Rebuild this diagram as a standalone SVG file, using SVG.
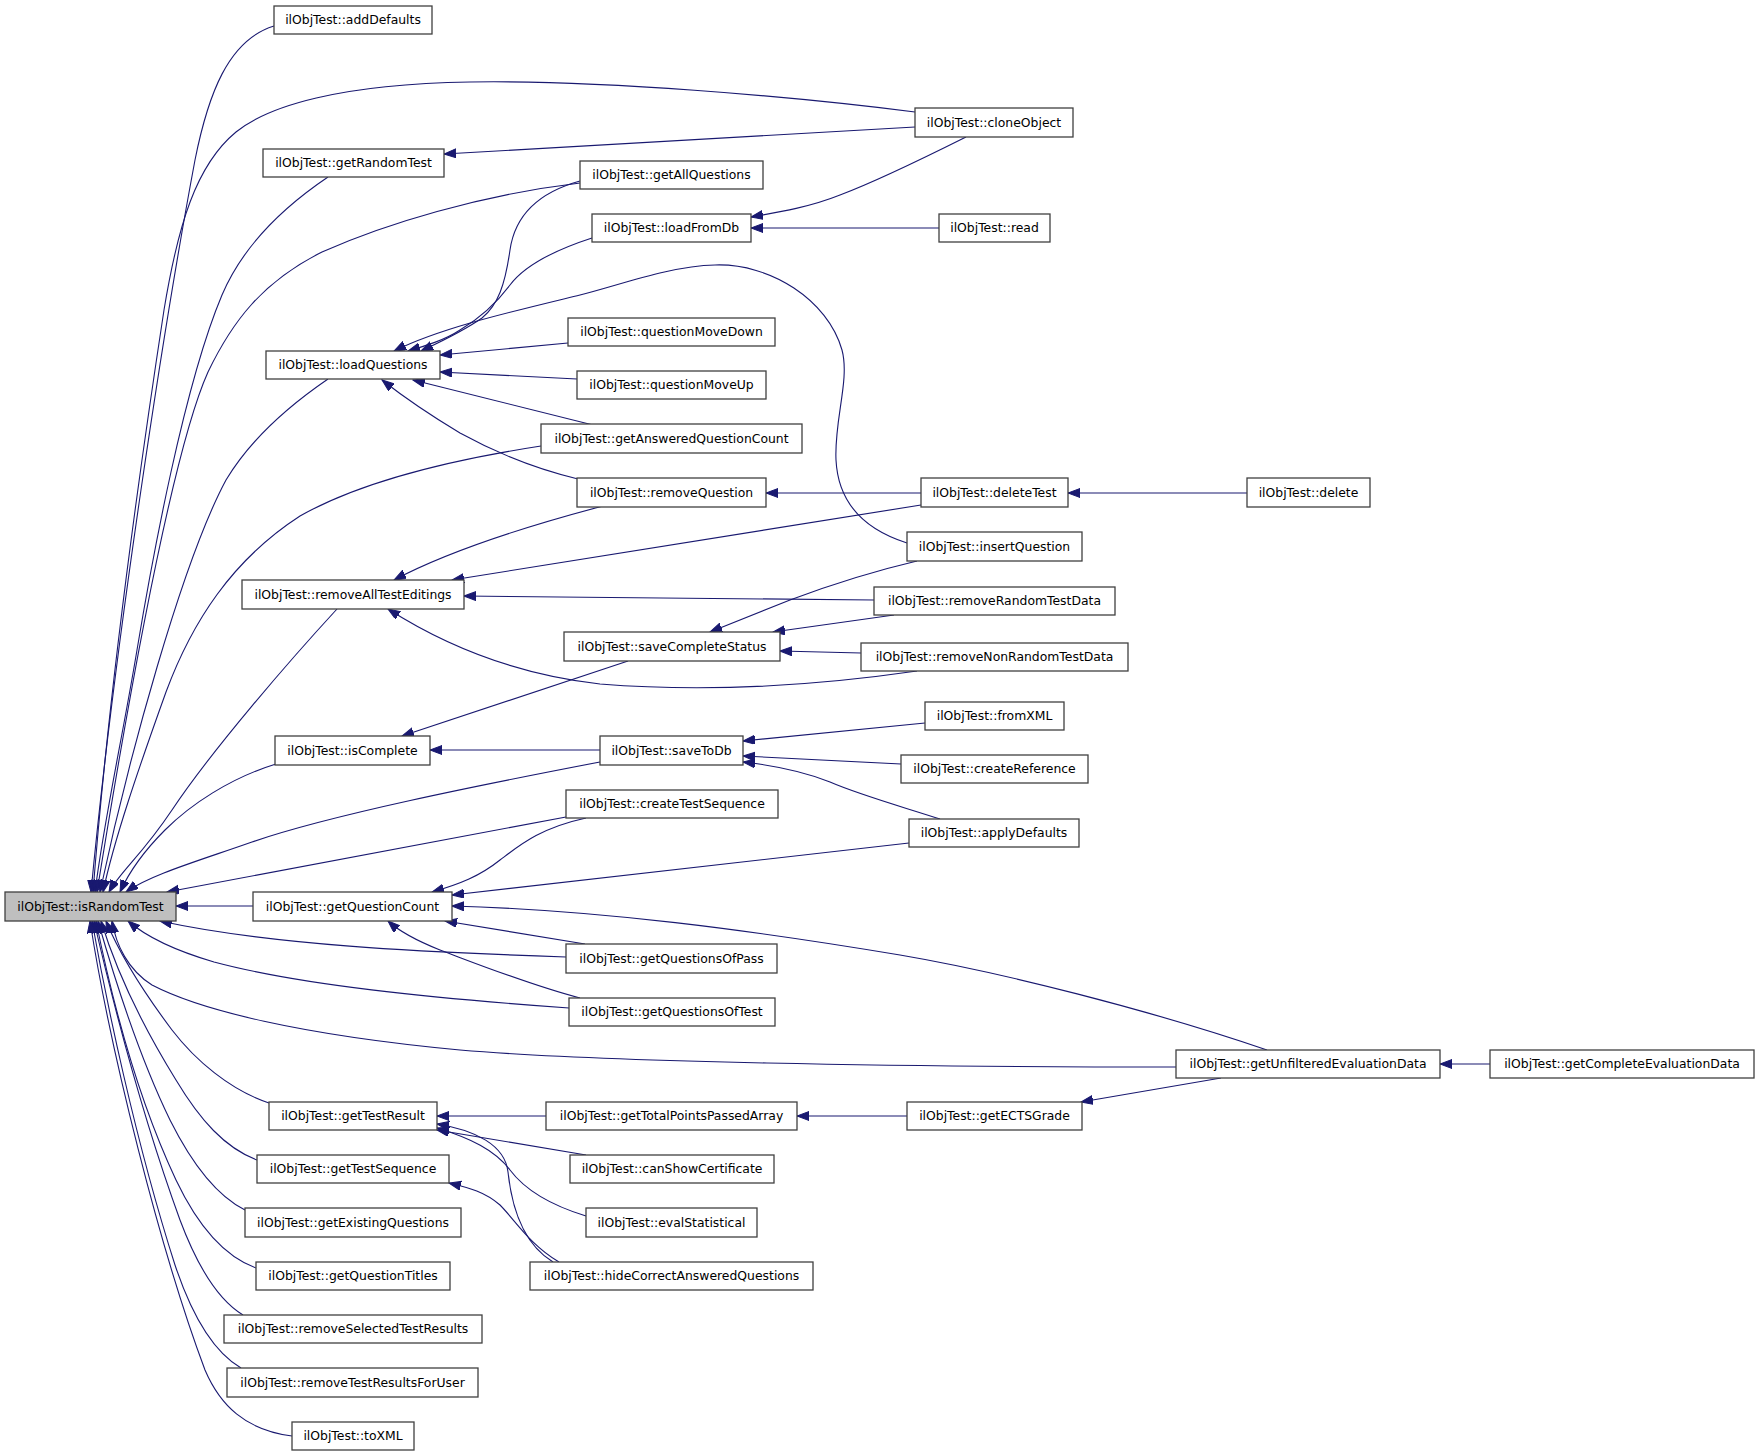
<svg xmlns="http://www.w3.org/2000/svg" width="1757" height="1456" viewBox="0 0 1757 1456">
<style>
.node rect{fill:#ffffff;stroke:#404040;stroke-width:1.3}
.node.root rect{fill:#bfbfbf}
.node text{font-family:"DejaVu Sans",sans-serif;font-size:12.4px;text-anchor:middle;fill:#000}
.edges path{fill:none;stroke:#191970;stroke-width:1.1;marker-end:url(#ah)}
</style>
<defs>
<marker id="ah" markerUnits="userSpaceOnUse" markerWidth="13" markerHeight="10" refX="12" refY="4.5" orient="auto">
<path d="M0,0 L12,4.5 L0,9 z" fill="#191970" stroke="#191970" stroke-width="1"/>
</marker>
</defs>
<rect width="1757" height="1456" fill="#ffffff"/>
<g class="edges" id="edges">
<path d="M274,26 C228,40 208,95 195,160 C165,320 115,640 91,892"/>
<path d="M915,112 C790,96 600,80 470,82 C340,84 268,106 236,132 C196,165 178,225 164,310 C138,480 108,700 93,892"/>
<path d="M328,177 C282,208 242,248 222,295 C184,385 152,560 137,650 C122,740 104,820 95,892"/>
<path d="M580,183 C480,195 385,224 322,252 C262,282 232,322 208,372 C172,452 128,700 97,892"/>
<path d="M328,379 C290,405 250,440 226,480 C182,562 128,760 100,892"/>
<path d="M541,446 C450,460 360,482 300,516 C232,560 192,622 166,692 C138,770 114,840 103,892"/>
<path d="M337,609 C290,660 212,750 172,810 C142,855 120,872 109,892"/>
<path d="M276,764 C230,778 190,805 165,830 C145,850 130,870 120,892"/>
<path d="M600,762 C480,785 330,815 252,842 C195,862 150,875 126,892"/>
<path d="M566,817 L167,892"/>
<path d="M253,906 L176,906"/>
<path d="M566,957 C420,952 270,945 160,921"/>
<path d="M569,1008 C430,998 300,985 214,962 C180,952 150,940 128,921"/>
<path d="M1176,1067 C900,1067 600,1062 460,1050 C300,1035 200,1010 152,985 C128,970 116,945 112,921"/>
<path d="M269,1103 C230,1090 195,1060 172,1030 C142,990 118,950 106,921"/>
<path d="M257,1160 C225,1148 200,1120 176,1080 C142,1025 116,970 101,921"/>
<path d="M245,1210 C215,1195 190,1160 170,1120 C136,1050 112,970 98,921"/>
<path d="M256,1268 C220,1255 195,1220 176,1180 C136,1095 110,990 96,921"/>
<path d="M243,1315 C215,1298 195,1260 180,1220 C140,1110 110,990 94,921"/>
<path d="M241,1368 C210,1350 190,1310 175,1265 C135,1140 106,1000 92,921"/>
<path d="M292,1436 C245,1430 220,1405 205,1370 C160,1250 110,1050 90,921"/>
<path d="M915,127 L444,154"/>
<path d="M966,137 C930,155 880,180 840,195 C810,207 780,212 751,217"/>
<path d="M939,228 L751,228"/>
<path d="M580,181 C540,192 515,215 510,250 C505,285 498,305 482,318 C462,332 440,342 421,351"/>
<path d="M592,238 C555,250 525,265 510,285 C495,305 480,318 460,330 C445,340 425,346 408,351"/>
<path d="M907,543 C860,528 838,500 836,460 C834,420 850,380 842,350 C828,300 770,263 715,265 C670,266 620,285 580,295 C510,312 440,328 394,351"/>
<path d="M568,343 L440,355"/>
<path d="M577,379 L440,372"/>
<path d="M593,425 L413,380"/>
<path d="M578,479 C540,470 500,455 460,433 C430,415 405,398 382,380"/>
<path d="M921,493 L766,493"/>
<path d="M1247,493 L1068,493"/>
<path d="M603,506 C550,520 460,545 394,580"/>
<path d="M921,505 L452,580"/>
<path d="M874,600 L464,596"/>
<path d="M917,671 C800,688 700,692 600,684 C530,676 460,655 388,609"/>
<path d="M917,561 C870,572 830,585 790,600 C760,612 735,622 710,632"/>
<path d="M894,615 L773,632"/>
<path d="M861,653 L780,651"/>
<path d="M628,661 L402,736"/>
<path d="M600,750 L430,750"/>
<path d="M925,723 L743,741"/>
<path d="M901,764 L743,756"/>
<path d="M940,819 C900,806 860,795 830,782 C800,770 770,765 743,762"/>
<path d="M586,818 C540,828 520,845 500,860 C480,876 460,884 432,892"/>
<path d="M909,843 L452,895"/>
<path d="M1267,1050 C1150,1010 1000,972 900,955 C750,930 600,910 452,906"/>
<path d="M585,944 L445,921"/>
<path d="M580,998 C530,985 480,965 440,950 C415,940 400,932 388,921"/>
<path d="M546,1116 L437,1116"/>
<path d="M586,1155 L437,1130"/>
<path d="M586,1216 C550,1205 525,1190 510,1170 C495,1150 470,1138 437,1128"/>
<path d="M553,1262 C525,1245 512,1210 508,1172 C505,1145 475,1130 437,1124"/>
<path d="M559,1262 C530,1245 515,1220 500,1205 C485,1192 470,1188 449,1183"/>
<path d="M907,1116 L797,1116"/>
<path d="M1221,1078 L1081,1102"/>
<path d="M1490,1064 L1440,1064"/>
</g>
<g class="node root" id="isRandomTest"><rect x="5" y="892" width="171" height="29"/><text x="90.5" y="910.8">ilObjTest::isRandomTest</text></g>
<g class="node" id="addDefaults"><rect x="274" y="6" width="158" height="28"/><text x="353" y="24.3">ilObjTest::addDefaults</text></g>
<g class="node" id="cloneObject"><rect x="915" y="108" width="158" height="29"/><text x="994" y="126.8">ilObjTest::cloneObject</text></g>
<g class="node" id="getRandomTest"><rect x="263" y="149" width="181" height="28"/><text x="353.5" y="167.3">ilObjTest::getRandomTest</text></g>
<g class="node" id="getAllQuestions"><rect x="580" y="161" width="183" height="28"/><text x="671.5" y="179.3">ilObjTest::getAllQuestions</text></g>
<g class="node" id="loadFromDb"><rect x="592" y="214" width="159" height="28"/><text x="671.5" y="232.3">ilObjTest::loadFromDb</text></g>
<g class="node" id="read"><rect x="939" y="214" width="111" height="28"/><text x="994.5" y="232.3">ilObjTest::read</text></g>
<g class="node" id="loadQuestions"><rect x="266" y="351" width="174" height="28"/><text x="353" y="369.3">ilObjTest::loadQuestions</text></g>
<g class="node" id="questionMoveDown"><rect x="568" y="318" width="207" height="28"/><text x="671.5" y="336.3">ilObjTest::questionMoveDown</text></g>
<g class="node" id="questionMoveUp"><rect x="577" y="371" width="189" height="28"/><text x="671.5" y="389.3">ilObjTest::questionMoveUp</text></g>
<g class="node" id="getAnsweredQuestionCount"><rect x="541" y="424" width="261" height="29"/><text x="671.5" y="442.8">ilObjTest::getAnsweredQuestionCount</text></g>
<g class="node" id="removeQuestion"><rect x="577" y="478" width="189" height="29"/><text x="671.5" y="496.8">ilObjTest::removeQuestion</text></g>
<g class="node" id="deleteTest"><rect x="921" y="478" width="147" height="29"/><text x="994.5" y="496.8">ilObjTest::deleteTest</text></g>
<g class="node" id="delete"><rect x="1247" y="478" width="123" height="29"/><text x="1308.5" y="496.8">ilObjTest::delete</text></g>
<g class="node" id="insertQuestion"><rect x="907" y="532" width="175" height="29"/><text x="994.5" y="550.8">ilObjTest::insertQuestion</text></g>
<g class="node" id="removeAllTestEditings"><rect x="242" y="580" width="222" height="29"/><text x="353" y="598.8">ilObjTest::removeAllTestEditings</text></g>
<g class="node" id="removeRandomTestData"><rect x="874" y="587" width="241" height="28"/><text x="994.5" y="605.3">ilObjTest::removeRandomTestData</text></g>
<g class="node" id="saveCompleteStatus"><rect x="564" y="632" width="216" height="29"/><text x="672" y="650.8">ilObjTest::saveCompleteStatus</text></g>
<g class="node" id="removeNonRandomTestData"><rect x="861" y="643" width="267" height="28"/><text x="994.5" y="661.3">ilObjTest::removeNonRandomTestData</text></g>
<g class="node" id="fromXML"><rect x="925" y="702" width="139" height="28"/><text x="994.5" y="720.3">ilObjTest::fromXML</text></g>
<g class="node" id="isComplete"><rect x="275" y="736" width="155" height="29"/><text x="352.5" y="754.8">ilObjTest::isComplete</text></g>
<g class="node" id="saveToDb"><rect x="600" y="736" width="143" height="29"/><text x="671.5" y="754.8">ilObjTest::saveToDb</text></g>
<g class="node" id="createReference"><rect x="901" y="755" width="187" height="28"/><text x="994.5" y="773.3">ilObjTest::createReference</text></g>
<g class="node" id="createTestSequence"><rect x="566" y="790" width="212" height="28"/><text x="672" y="808.3">ilObjTest::createTestSequence</text></g>
<g class="node" id="applyDefaults"><rect x="909" y="819" width="170" height="28"/><text x="994" y="837.3">ilObjTest::applyDefaults</text></g>
<g class="node" id="getQuestionCount"><rect x="253" y="892" width="199" height="29"/><text x="352.5" y="910.8">ilObjTest::getQuestionCount</text></g>
<g class="node" id="getQuestionsOfPass"><rect x="566" y="944" width="211" height="29"/><text x="671.5" y="962.8">ilObjTest::getQuestionsOfPass</text></g>
<g class="node" id="getQuestionsOfTest"><rect x="569" y="998" width="206" height="28"/><text x="672" y="1016.3">ilObjTest::getQuestionsOfTest</text></g>
<g class="node" id="getUnfilteredEvaluationData"><rect x="1176" y="1050" width="264" height="28"/><text x="1308" y="1068.3">ilObjTest::getUnfilteredEvaluationData</text></g>
<g class="node" id="getCompleteEvaluationData"><rect x="1490" y="1050" width="264" height="28"/><text x="1622" y="1068.3">ilObjTest::getCompleteEvaluationData</text></g>
<g class="node" id="getTestResult"><rect x="269" y="1102" width="168" height="28"/><text x="353" y="1120.3">ilObjTest::getTestResult</text></g>
<g class="node" id="getTotalPointsPassedArray"><rect x="546" y="1102" width="251" height="28"/><text x="671.5" y="1120.3">ilObjTest::getTotalPointsPassedArray</text></g>
<g class="node" id="getECTSGrade"><rect x="907" y="1102" width="175" height="28"/><text x="994.5" y="1120.3">ilObjTest::getECTSGrade</text></g>
<g class="node" id="getTestSequence"><rect x="257" y="1155" width="192" height="28"/><text x="353" y="1173.3">ilObjTest::getTestSequence</text></g>
<g class="node" id="canShowCertificate"><rect x="570" y="1155" width="204" height="28"/><text x="672" y="1173.3">ilObjTest::canShowCertificate</text></g>
<g class="node" id="getExistingQuestions"><rect x="245" y="1208" width="216" height="29"/><text x="353" y="1226.8">ilObjTest::getExistingQuestions</text></g>
<g class="node" id="evalStatistical"><rect x="586" y="1208" width="171" height="29"/><text x="671.5" y="1226.8">ilObjTest::evalStatistical</text></g>
<g class="node" id="getQuestionTitles"><rect x="256" y="1262" width="194" height="28"/><text x="353" y="1280.3">ilObjTest::getQuestionTitles</text></g>
<g class="node" id="hideCorrectAnsweredQuestions"><rect x="530" y="1262" width="283" height="28"/><text x="671.5" y="1280.3">ilObjTest::hideCorrectAnsweredQuestions</text></g>
<g class="node" id="removeSelectedTestResults"><rect x="224" y="1315" width="258" height="28"/><text x="353" y="1333.3">ilObjTest::removeSelectedTestResults</text></g>
<g class="node" id="removeTestResultsForUser"><rect x="227" y="1368" width="251" height="29"/><text x="352.5" y="1386.8">ilObjTest::removeTestResultsForUser</text></g>
<g class="node" id="toXML"><rect x="292" y="1422" width="122" height="28"/><text x="353" y="1440.3">ilObjTest::toXML</text></g>
</svg>
